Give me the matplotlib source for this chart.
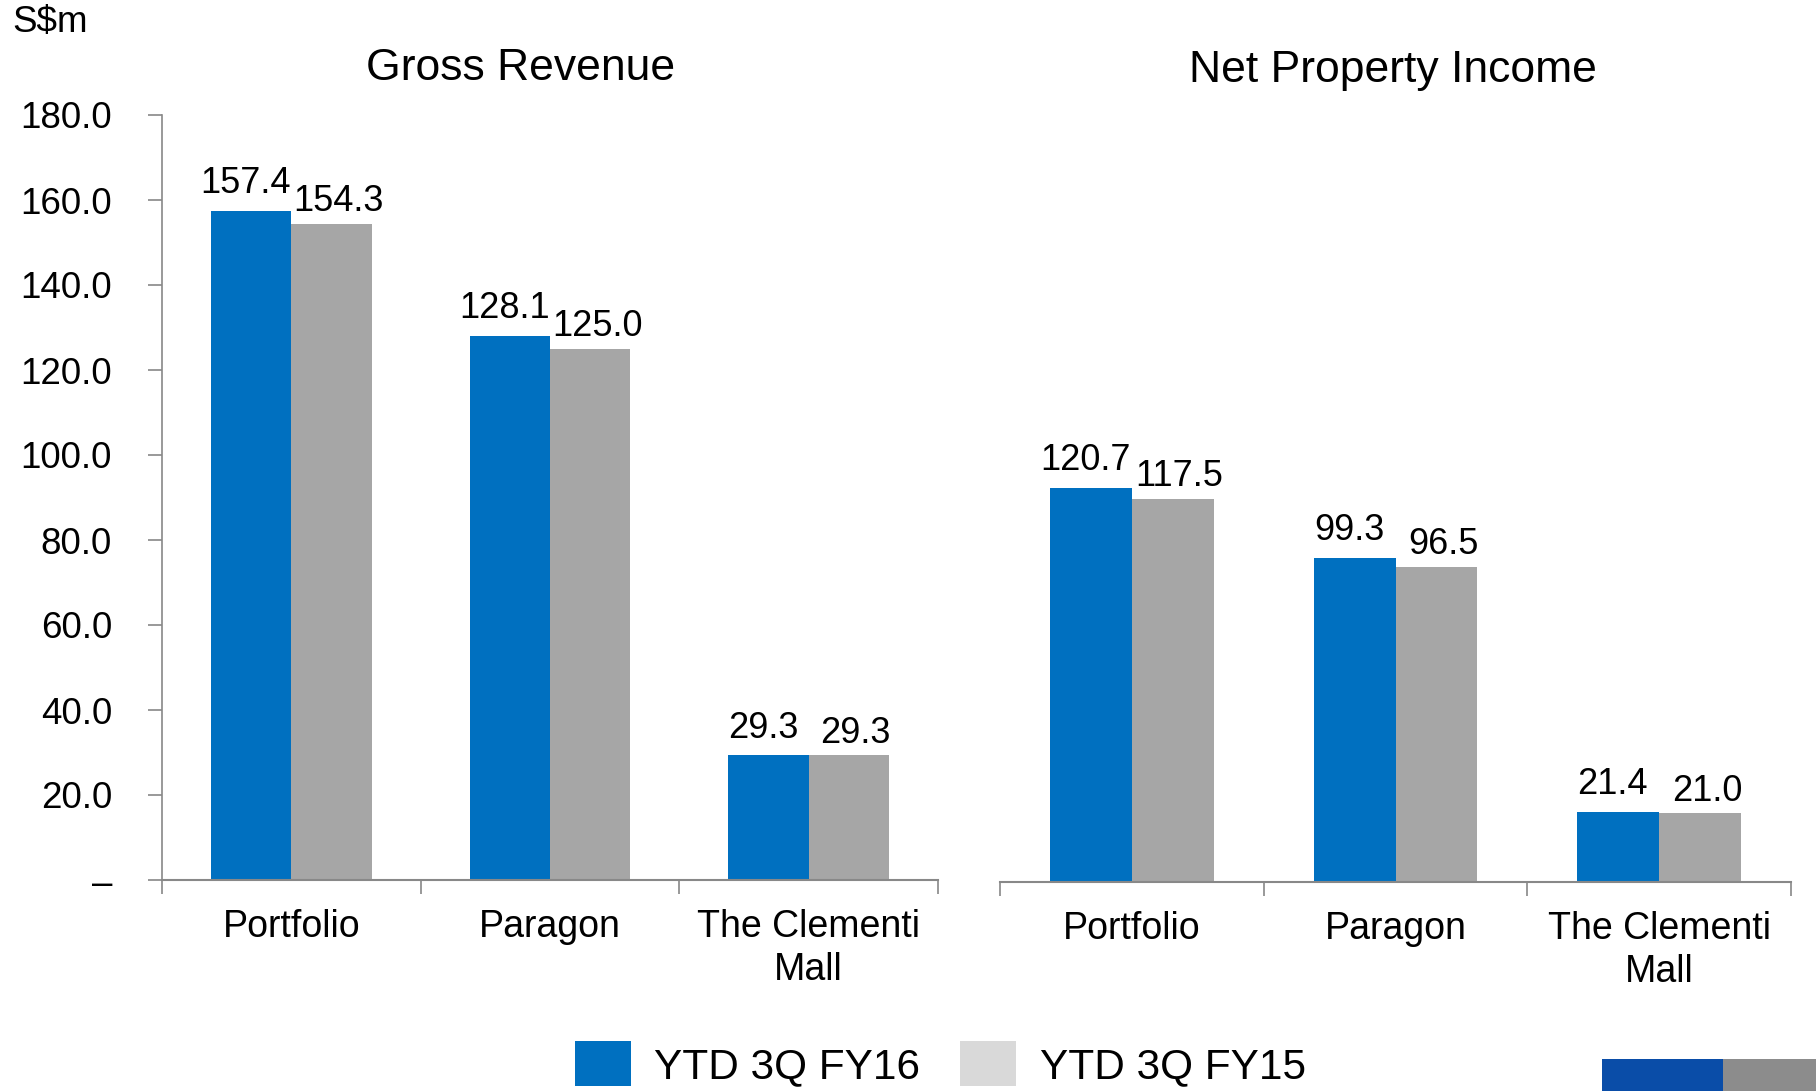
import matplotlib
matplotlib.use("Agg")
import matplotlib.pyplot as plt
from matplotlib.patches import Patch, Rectangle
import numpy as np

plt.rcParams['font.family'] = ['Liberation Sans', 'DejaVu Sans']

categories = ["Portfolio", "Paragon", "The Clementi\nMall"]
series_names = ["YTD 3Q FY16", "YTD 3Q FY15"]
gross_fy16 = [157.4, 128.1, 29.3]
gross_fy15 = [154.3, 125.0, 29.3]
npi_fy16 = [120.7, 99.3, 21.4]
npi_fy15 = [117.5, 96.5, 21.0]
yticks_left = [0, 20, 40, 60, 80, 100, 120, 140, 160, 180]
ytick_labels_left = ["–", "20.0", "40.0", "60.0", "80.0", "100.0", "120.0", "140.0", "160.0", "180.0"]

BLUE = "#0070C0"
GRAY = "#A6A6A6"
LEG_GRAY = "#D9D9D9"
SPINE = "#888888"

W, H = 1816, 1091
fig = plt.figure(figsize=(W / 100, H / 100), dpi=100)

def px(x0, y0, x1, y1):
    return [x0 / W, 1 - y1 / H, (x1 - x0) / W, (y1 - y0) / H]

axL = fig.add_axes(px(162, 115, 938, 880))
axR = fig.add_axes(px(1000, 115, 1791, 882))

bw = 0.31
x = np.arange(len(categories))

def draw(ax, a, b, ymax):
    b1 = ax.bar(x - bw / 2, a, bw, color=BLUE, zorder=2)
    b2 = ax.bar(x + bw / 2, b, bw, color=GRAY, zorder=2)
    for bars, vals, dx, dy in ((b1, a, -4, 7), (b2, b, 5, 3.5)):
        for r, v in zip(bars, vals):
            ax.annotate(f"{v:.1f}", (r.get_x() + r.get_width() / 2, r.get_height()),
                        xytext=(dx, dy), textcoords="offset points",
                        ha="center", va="bottom", fontsize=26, color="black")
    ax.set_xlim(-0.5, len(categories) - 0.5)
    ax.set_ylim(0, ymax)
    ax.set_xticks(np.arange(len(categories) + 1) - 0.5)
    ax.set_xticklabels([])
    ax.set_xticks(x, minor=True)
    ax.set_xticklabels(categories, minor=True, fontsize=27, linespacing=1.25)
    ax.tick_params(axis="x", which="major", length=10, width=1.2, color=SPINE, direction="out")
    ax.tick_params(axis="x", which="minor", length=0, pad=21)
    for s in ("top", "right"):
        ax.spines[s].set_visible(False)
    ax.spines["bottom"].set_color(SPINE)
    ax.spines["bottom"].set_linewidth(1.5)
    ax.set_facecolor("none")

draw(axL, gross_fy16, gross_fy15, 180)
draw(axR, npi_fy16, npi_fy15, 235)

axL.set_yticks(yticks_left)
axL.set_yticklabels(ytick_labels_left, fontsize=26.5)
axL.tick_params(axis="y", length=10, width=1.2, color=SPINE, pad=26)
axL.spines["left"].set_color(SPINE)
axL.spines["left"].set_linewidth(1.2)

axR.spines["left"].set_visible(False)
axR.set_yticks([])

fig.text(521 / W, 1 - 68 / H, "Gross Revenue", ha="center", va="center", fontsize=32)
fig.text(1393 / W, 1 - 71 / H, "Net Property Income", ha="center", va="center", fontsize=32)
fig.text(12 / W, 1 - 23 / H, "S$m", ha="left", va="center", fontsize=26.5)

handles = [Patch(facecolor=BLUE, edgecolor="none"), Patch(facecolor=LEG_GRAY, edgecolor="none")]
fig.legend(handles, series_names, loc="center left", bbox_to_anchor=(575 / W, 1 - 1064 / H),
           ncol=2, frameon=False, fontsize=30.5, handlelength=1.32, handleheight=1.25,
           handletextpad=0.55, columnspacing=0.95, borderpad=0, borderaxespad=0)

# partial logo fragment at bottom-right corner
fig.patches.append(Rectangle((1602 / W, 0), 121 / W, 32 / H, transform=fig.transFigure,
                             facecolor="#0A4DA8", edgecolor="none"))
fig.patches.append(Rectangle((1723 / W, 0), 93 / W, 32 / H, transform=fig.transFigure,
                             facecolor="#8C8C8C", edgecolor="none"))

fig.savefig("out.png", dpi=100)
